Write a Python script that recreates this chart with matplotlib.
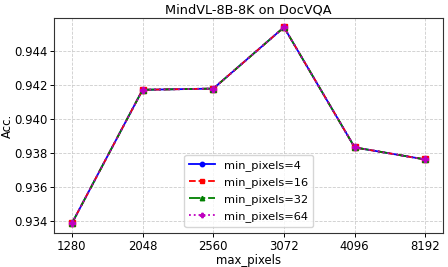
import matplotlib
matplotlib.use("Agg")
import matplotlib.pyplot as plt
import numpy as np

max_pixels = ["1280", "2048", "2560", "3072", "4096", "8192"]
acc_4 = [0.93385, 0.94171, 0.94178, 0.94539, 0.93832, 0.93761]
acc_16 = [0.93385, 0.94171, 0.94178, 0.94539, 0.93832, 0.93761]
acc_32 = [0.93385, 0.94171, 0.94178, 0.94539, 0.93832, 0.93761]
acc_64 = [0.93385, 0.94171, 0.94178, 0.94539, 0.93832, 0.93761]
labels = ["min_pixels=4", "min_pixels=16", "min_pixels=32", "min_pixels=64"]

fig, ax = plt.subplots(figsize=(4.48, 2.67), dpi=100)
x = np.arange(len(max_pixels))
ax.plot(x, acc_4, color="blue", linestyle="-", marker="o", markersize=4, linewidth=1.3, label=labels[0])
ax.plot(x, acc_16, color="red", linestyle="--", marker="s", markersize=4, linewidth=1.3, label=labels[1])
ax.plot(x, acc_32, color="green", linestyle="-.", marker="^", markersize=4, linewidth=1.3, label=labels[2])
ax.plot(x, acc_64, color="m", linestyle=":", marker="P", markersize=4, linewidth=1.3, label=labels[3])

ax.set_xticks(x)
ax.set_xticklabels(max_pixels)
ax.set_yticks([0.934, 0.936, 0.938, 0.940, 0.942, 0.944])
ax.set_yticklabels(["0.934", "0.936", "0.938", "0.940", "0.942", "0.944"])
ax.set_ylim(0.93328, 0.94594)
ax.tick_params(labelsize=8.4, length=2.8, width=0.7, pad=2)
for s in ax.spines.values():
    s.set_linewidth(0.8)
    s.set_color("#333333")
ax.set_xlabel("max_pixels", fontsize=8.4, labelpad=1)
ax.set_ylabel("Acc.", fontsize=8.4, labelpad=0.5)
ax.set_title("MindVL-8B-8K on DocVQA", fontsize=9.3, pad=3)
ax.grid(True, linestyle="--", color="#cccccc", linewidth=0.6)
ax.legend(loc="lower center", fontsize=8.2, handlelength=2.2, labelspacing=0.55, borderpad=0.45, markerscale=0.8)
fig.subplots_adjust(left=0.121, right=0.989, top=0.933, bottom=0.127)
fig.savefig("out.png", dpi=100)
